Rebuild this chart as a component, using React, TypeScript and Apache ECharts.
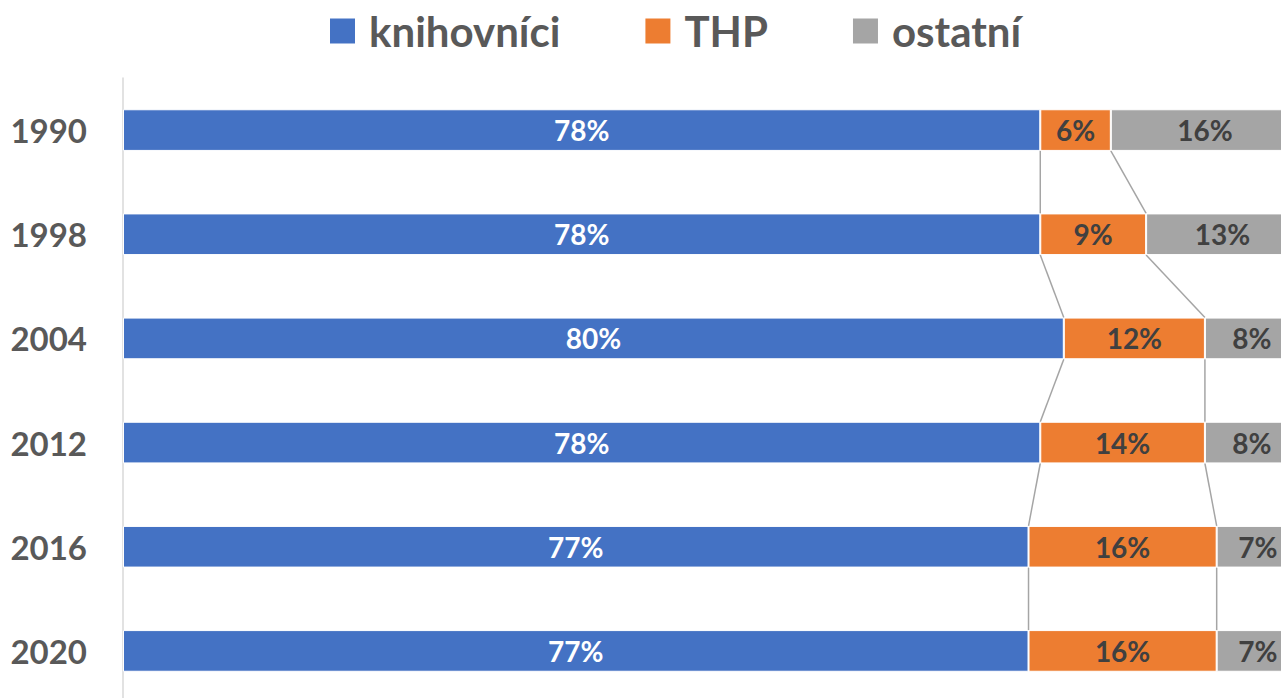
import React, { useEffect, useRef } from "react";
import * as echarts from "echarts";

const years = ["1990", "1998", "2004", "2012", "2016", "2020"];
const knihovnici = [78, 78, 80, 78, 77, 77];
const thp = [6, 9, 12, 14, 16, 16];
const ostatni = [16, 13, 8, 8, 7, 7];
const seriesNames = ["knihovníci", "THP", "ostatní"];

const FONT = "Lato";
const TEXT = "#595959";

export default function App() {
  const ref = useRef<HTMLDivElement>(null);
  useEffect(() => {
    if (!ref.current) return;
    const chart = echarts.init(ref.current, undefined, { renderer: "svg" });

    const linkData = years.slice(0, -1).map((_, i) => [
      i,
      knihovnici[i],
      knihovnici[i + 1],
      knihovnici[i] + thp[i],
      knihovnici[i + 1] + thp[i + 1],
    ]);

    const barCommon = {
      type: "bar",
      stack: "total",
      barWidth: "40%",
      itemStyle: { borderColor: "#ffffff", borderWidth: 1 },
    };

    const labelStyle = (color: string) => ({
      show: true,
      position: "inside",
      formatter: "{c}%",
      fontFamily: FONT,
      fontSize: 28,
      fontWeight: "bold",
      color,
    });

    const legendWidths = [203, 74, 138];

    chart.setOption({
      animation: false,
      textStyle: { fontFamily: FONT },
      legend: {
        left: 323,
        top: 5,
        icon: "rect",
        itemWidth: 27,
        itemHeight: 27,
        itemGap: 83,
        textStyle: {
          fontFamily: FONT,
          fontSize: 42,
          fontWeight: "bold",
          color: TEXT,
          padding: [0, 0, 0, 8],
        },
        data: seriesNames.map((n, i) => ({
          name: n,
          textStyle: { width: legendWidths[i] },
        })),
      },
      grid: { left: 123, right: 0, top: 78, bottom: 0 },
      xAxis: {
        type: "value",
        min: 0,
        max: 100,
        show: false,
      },
      yAxis: {
        type: "category",
        inverse: true,
        data: years,
        axisLine: { show: true, lineStyle: { color: "#D9D9D9", width: 1.5 } },
        axisTick: { show: false },
        axisLabel: {
          margin: 36,
          fontFamily: FONT,
          fontSize: 33,
          fontWeight: "bold",
          color: TEXT,
        },
      },
      series: [
        {
          ...barCommon,
          name: seriesNames[0],
          data: knihovnici,
          itemStyle: { ...barCommon.itemStyle, color: "#4472C4" },
          label: labelStyle("#ffffff"),
        },
        {
          ...barCommon,
          name: seriesNames[1],
          data: thp,
          itemStyle: { ...barCommon.itemStyle, color: "#ED7D31" },
          label: labelStyle("#404040"),
        },
        {
          ...barCommon,
          name: seriesNames[2],
          data: ostatni,
          itemStyle: { ...barCommon.itemStyle, color: "#A5A5A5" },
          label: labelStyle("#404040"),
        },
        {
          type: "custom",
          name: "links",
          silent: true,
          encode: { y: 0, x: 1 },
          data: linkData,
          z: 1,
          renderItem: (params: any, api: any) => {
            const idx = api.value(0);
            const band = api.size([0, 1])[1];
            const half = (band * 0.4) / 2;
            const children: any[] = [];
            [[1, 2], [3, 4]].forEach(([a, b]) => {
              const p1 = api.coord([api.value(a), idx]);
              const p2 = api.coord([api.value(b), idx + 1]);
              children.push({
                type: "line",
                shape: { x1: p1[0], y1: p1[1] + half, x2: p2[0], y2: p2[1] - half },
                style: { stroke: "#A5A5A5", lineWidth: 1.5 },
              });
            });
            return { type: "group", children };
          },
        },
      ],
    });
    return () => chart.dispose();
  }, []);
  return (
    <div
      style={{
        position: "absolute",
        left: 0,
        top: 0,
        width: 1281,
        height: 698,
        overflow: "hidden",
      }}
    >
      <div ref={ref} style={{ width: 1299, height: 703 }} />
    </div>
  );
}
